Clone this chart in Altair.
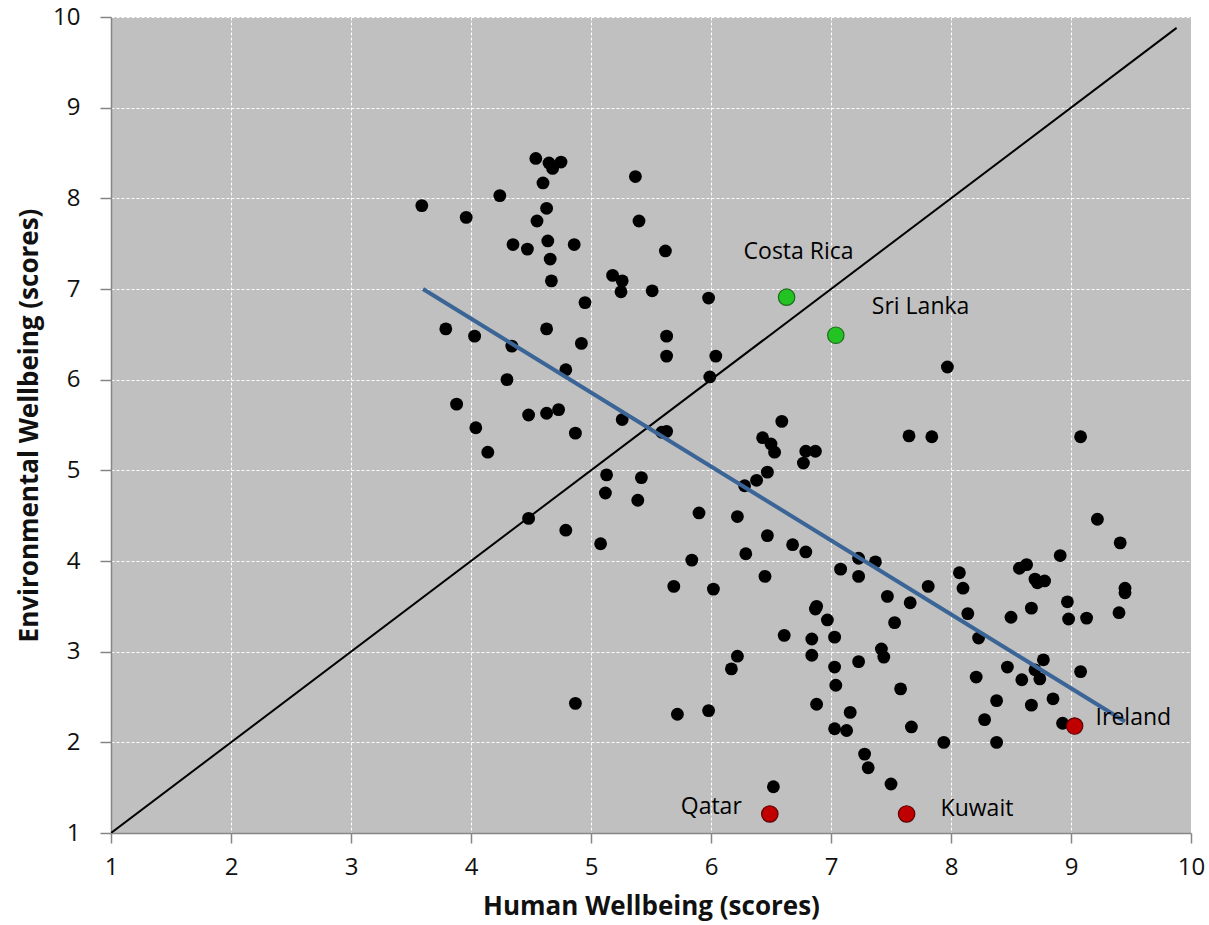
import altair as alt
import pandas as pd

# Country scores: human wellbeing (x) and environmental wellbeing (y)
human = [
    4.54, 4.65, 4.68, 4.75, 4.60, 4.24, 3.59, 3.96, 4.63, 4.55,
    5.37, 5.40, 4.35, 4.47, 4.64, 4.86, 4.66, 5.62, 4.67, 5.18,
    5.26, 5.25, 5.51, 5.98, 4.95, 3.79, 4.03, 4.63, 4.92, 5.63,
    5.63, 6.04, 4.34, 4.79, 4.30, 5.99, 3.88, 4.48, 4.63, 4.73,
    5.26, 4.04, 4.87, 5.59, 5.63, 4.14, 5.13, 5.42, 5.12, 5.39,
    4.48, 4.79, 5.08, 5.90, 5.84, 5.69, 6.02, 4.87, 5.72, 5.98,
    6.59, 6.43, 6.50, 6.53, 6.79, 6.87, 6.77, 7.65, 7.84, 6.47,
    6.38, 6.28, 6.22, 6.47, 6.68, 6.79, 6.29, 7.23, 7.37, 7.08,
    7.23, 6.45, 8.07, 8.10, 7.81, 7.47, 7.66, 8.14, 6.88, 6.87,
    6.97, 7.53, 8.23, 6.61, 6.84, 7.03, 7.42, 7.44, 6.22, 6.84,
    6.17, 7.03, 7.23, 7.04, 8.21, 7.58, 6.88, 7.16, 7.67, 7.03,
    7.13, 7.94, 7.28, 7.31, 7.50, 6.52, 9.08, 9.22, 9.41, 8.91,
    8.57, 8.63, 8.70, 8.78, 8.72, 9.45, 9.45, 8.97, 8.67, 8.98,
    9.13, 9.40, 8.50, 8.77, 8.47, 8.70, 8.74, 8.59, 9.08, 8.38,
    8.67, 8.85, 8.28, 8.93, 8.38, 7.97,
]
environmental = [
    8.44, 8.39, 8.33, 8.40, 8.17, 8.03, 7.92, 7.79, 7.89, 7.75,
    8.24, 7.75, 7.49, 7.44, 7.53, 7.49, 7.33, 7.42, 7.09, 7.15,
    7.09, 6.97, 6.98, 6.90, 6.85, 6.56, 6.48, 6.56, 6.40, 6.48,
    6.26, 6.26, 6.37, 6.11, 6.00, 6.03, 5.73, 5.61, 5.63, 5.67,
    5.56, 5.47, 5.41, 5.42, 5.43, 5.20, 4.95, 4.92, 4.75, 4.67,
    4.47, 4.34, 4.19, 4.53, 4.01, 3.72, 3.69, 2.43, 2.31, 2.35,
    5.54, 5.36, 5.29, 5.20, 5.21, 5.21, 5.08, 5.38, 5.37, 4.98,
    4.89, 4.83, 4.49, 4.28, 4.18, 4.10, 4.08, 4.03, 3.99, 3.91,
    3.83, 3.83, 3.87, 3.70, 3.72, 3.61, 3.54, 3.42, 3.50, 3.47,
    3.35, 3.32, 3.15, 3.18, 3.14, 3.16, 3.03, 2.94, 2.95, 2.96,
    2.81, 2.83, 2.89, 2.63, 2.72, 2.59, 2.42, 2.33, 2.17, 2.15,
    2.13, 2.00, 1.87, 1.72, 1.54, 1.51, 5.37, 4.46, 4.20, 4.06,
    3.92, 3.96, 3.80, 3.78, 3.76, 3.70, 3.65, 3.55, 3.48, 3.36,
    3.37, 3.43, 3.38, 2.91, 2.83, 2.80, 2.70, 2.69, 2.78, 2.46,
    2.41, 2.48, 2.25, 2.21, 2.00, 6.14,
]

# Highlighted countries
named = ["Costa Rica", "Sri Lanka", "Qatar", "Kuwait", "Ireland"]
named_human = [6.63, 7.04, 6.49, 7.63, 9.03]
named_env = [6.91, 6.49, 1.21, 1.21, 2.18]
named_group = ["good", "good", "poor", "poor", "poor"]

# Equality line (human = environmental) and linear trend
diag_x = [1.0, 9.88]
trend_x = [3.6, 9.45]
trend_y = [7.0, 2.23]

FONT = "Open Sans"
TICKS = list(range(1, 11))

pts = pd.DataFrame({"h": human, "e": environmental})
hi = pd.DataFrame({"h": named_human, "e": named_env, "name": named, "group": named_group})
diag = pd.DataFrame({"h": diag_x, "e": diag_x})
trend = pd.DataFrame({"h": trend_x, "e": trend_y})

xscale = alt.Scale(domain=[1, 10], nice=False, zero=False)
yscale = alt.Scale(domain=[1, 10], nice=False, zero=False)

X = alt.X("h:Q", scale=xscale, title="Human Wellbeing (scores)",
          axis=alt.Axis(values=TICKS, format="d"))
Y = alt.Y("e:Q", scale=yscale, title="Environmental Wellbeing (scores)",
          axis=alt.Axis(values=TICKS, format="d"))

diag_layer = alt.Chart(diag).mark_line(color="black", strokeWidth=2, clip=True).encode(x=X, y=Y)
trend_layer = alt.Chart(trend).mark_line(color="#3B6596", strokeWidth=4).encode(x=X, y=Y)
dots = alt.Chart(pts).mark_circle(color="black", size=165, opacity=1).encode(x=X, y=Y)

hi_dots = alt.Chart(hi).mark_point(
    filled=True, shape="circle", size=270, opacity=1, strokeWidth=1.2
).encode(
    x=X, y=Y,
    fill=alt.Fill("group:N", scale=alt.Scale(domain=["good", "poor"], range=["#22C322", "#C00000"]), legend=None),
    stroke=alt.Stroke("group:N", scale=alt.Scale(domain=["good", "poor"], range=["#1E6B1E", "#5A0000"]), legend=None),
)

# Label placement relative to each highlighted point
offsets = {
    "Costa Rica": dict(dx=12, dy=-45, align="center"),
    "Sri Lanka": dict(dx=36, dy=-28, align="left"),
    "Qatar": dict(dx=-28, dy=-7, align="right"),
    "Kuwait": dict(dx=34, dy=-5, align="left"),
    "Ireland": dict(dx=21, dy=-8, align="left"),
}
labels = []
for nm in named:
    o = offsets[nm]
    labels.append(
        alt.Chart(hi[hi["name"] == nm]).mark_text(
            font=FONT, fontSize=23, color="black", baseline="middle",
            align=o["align"], dx=o["dx"], dy=o["dy"],
        ).encode(x=X, y=Y, text="name:N")
    )

chart = alt.layer(dots, diag_layer, trend_layer, hi_dots, *labels).properties(
    width=1080, height=816,
    background="white",
    autosize=alt.AutoSizeParams(type="none"),
    padding={"left": 111, "top": 17, "right": 18, "bottom": 92},
).configure_view(
    fill="#C0C0C0", stroke=None,
).configure_axis(
    labelFont=FONT, titleFont=FONT, labelColor="#111111", titleColor="#111111",
    labelFontSize=24, titleFontSize=26, titleFontWeight="bold",
    domainColor="#868686", tickColor="#868686", domainWidth=1.5, tickWidth=1.5,
    grid=True, gridColor="white", gridDash=[3, 2], gridWidth=1, gridOpacity=1,
    labelFlush=False,
).configure_axisX(
    tickSize=10, labelPadding=12, titlePadding=14,
).configure_axisY(
    tickSize=11, labelPadding=20, titlePadding=10,
)

chart.save("out.html", embed_options={"renderer": "svg", "actions": False})
